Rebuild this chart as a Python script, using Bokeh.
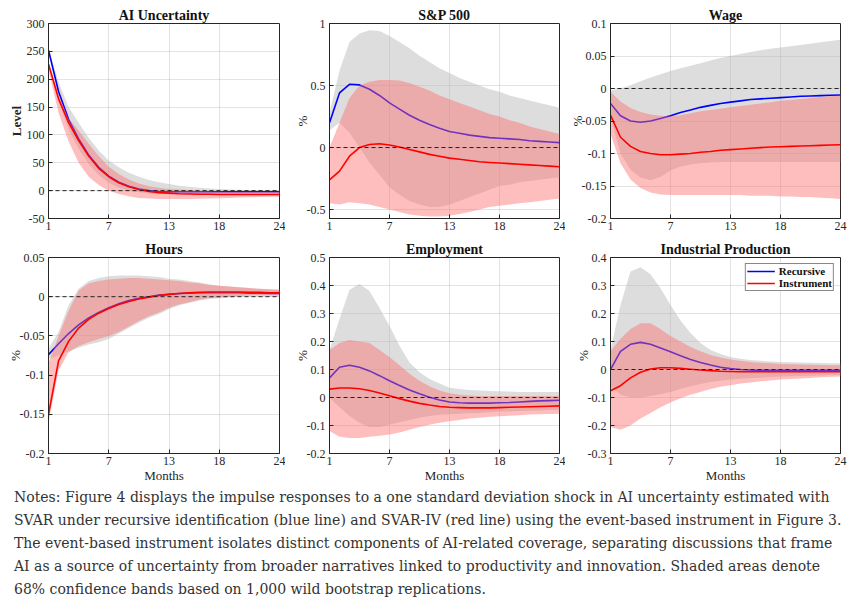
from bokeh.plotting import figure
from bokeh.layouts import row, column
from bokeh.models import Range1d, FixedTicker, Span, Div
from bokeh.embed import file_html
from bokeh.resources import INLINE

months = list(range(1, 25))
month_ticks = [1, 7, 13, 18, 24]
month_labels = ["1", "7", "13", "18", "24"]

# ---------------- AI Uncertainty ----------------
ai_rec = [252, 178, 128, 93, 64, 42, 26, 15, 8, 3, 0, -1.5, -2, -2, -2, -2, -2, -2, -2, -2, -2, -2, -2, -2]
ai_rec_lo = [248, 160, 110, 75, 48, 28, 14, 5, 0, -3, -5, -6, -6, -6, -6, -6, -6, -6, -6, -6, -5.5, -5.5, -5.5, -5.5]
ai_rec_hi = [255, 195, 150, 122, 95, 72, 54, 42, 32, 25, 19, 15, 12, 9, 7, 5, 4, 3, 2, 1.5, 1, 1, 0.5, 0.5]
ai_iv = [227, 165, 122, 90, 62, 40, 25, 14, 7, 2, -1.5, -3.5, -4.5, -5.5, -6, -6.5, -6.5, -7, -7, -7, -7, -7, -7, -7]
ai_iv_lo = [218, 140, 88, 50, 25, 10, 0, -6, -10, -13, -14, -15, -15, -15, -15, -14.5, -14, -13.5, -13, -12.5, -12, -11.5, -11, -11]
ai_iv_hi = [232, 172, 130, 108, 84, 62, 43, 30, 20, 13, 8, 5, 3, 2, 1, 0, -1, -1.5, -2, -2, -2, -2, -2, -2]
ai_yticks = [-50, 0, 50, 100, 150, 200, 250, 300]
ai_ylabels = ["-50", "0", "50", "100", "150", "200", "250", "300"]

# ---------------- S&P 500 ----------------
sp_rec = [0.20, 0.44, 0.51, 0.505, 0.47, 0.42, 0.36, 0.31, 0.26, 0.22, 0.185, 0.155, 0.13, 0.115, 0.10, 0.09, 0.08, 0.075, 0.07, 0.065, 0.055, 0.05, 0.045, 0.04]
sp_rec_lo = [0.14, 0.20, 0.12, 0.0, -0.12, -0.22, -0.32, -0.38, -0.43, -0.46, -0.48, -0.48, -0.46, -0.43, -0.40, -0.37, -0.34, -0.31, -0.30, -0.28, -0.27, -0.26, -0.25, -0.24]
sp_rec_hi = [0.28, 0.62, 0.85, 0.92, 0.945, 0.94, 0.90, 0.85, 0.80, 0.74, 0.69, 0.64, 0.60, 0.56, 0.53, 0.50, 0.47, 0.45, 0.42, 0.40, 0.38, 0.36, 0.34, 0.32]
sp_iv = [-0.26, -0.19, -0.07, 0.0, 0.025, 0.03, 0.02, 0.005, -0.015, -0.035, -0.055, -0.07, -0.085, -0.095, -0.105, -0.115, -0.12, -0.125, -0.13, -0.135, -0.14, -0.145, -0.15, -0.155]
sp_iv_lo = [-0.45, -0.46, -0.44, -0.45, -0.46, -0.48, -0.50, -0.52, -0.54, -0.55, -0.555, -0.555, -0.55, -0.535, -0.52, -0.50, -0.48, -0.47, -0.46, -0.45, -0.44, -0.43, -0.42, -0.41]
sp_iv_hi = [0.0, 0.2, 0.4, 0.5, 0.53, 0.545, 0.545, 0.54, 0.52, 0.49, 0.46, 0.42, 0.39, 0.36, 0.33, 0.30, 0.27, 0.25, 0.22, 0.20, 0.17, 0.15, 0.13, 0.11]
sp_yticks = [-0.5, 0, 0.5, 1]
sp_ylabels = ["-0.5", "0", "0.5", "1"]

# ---------------- Wage ----------------
wg_rec = [-0.023, -0.042, -0.05, -0.052, -0.05, -0.046, -0.042, -0.037, -0.033, -0.029, -0.026, -0.023, -0.021, -0.019, -0.017, -0.016, -0.015, -0.014, -0.013, -0.012, -0.0115, -0.011, -0.0105, -0.01]
wg_rec_lo = [-0.045, -0.1, -0.125, -0.137, -0.141, -0.136, -0.126, -0.12, -0.117, -0.115, -0.114, -0.113, -0.113, -0.113, -0.113, -0.113, -0.113, -0.113, -0.113, -0.113, -0.113, -0.113, -0.113, -0.113]
wg_rec_hi = [-0.003, 0.0, 0.005, 0.011, 0.017, 0.022, 0.027, 0.031, 0.035, 0.039, 0.043, 0.047, 0.05, 0.053, 0.056, 0.059, 0.061, 0.063, 0.065, 0.067, 0.069, 0.071, 0.073, 0.075]
wg_iv = [-0.041, -0.075, -0.089, -0.097, -0.1, -0.102, -0.102, -0.101, -0.1, -0.098, -0.097, -0.095, -0.094, -0.093, -0.092, -0.091, -0.09, -0.0895, -0.089, -0.0885, -0.088, -0.0875, -0.087, -0.0865]
wg_iv_lo = [-0.07, -0.115, -0.14, -0.153, -0.16, -0.163, -0.164, -0.164, -0.164, -0.164, -0.164, -0.164, -0.164, -0.164, -0.165, -0.165, -0.165, -0.166, -0.166, -0.167, -0.167, -0.168, -0.169, -0.17]
wg_iv_hi = [-0.005, -0.02, -0.03, -0.036, -0.04, -0.042, -0.043, -0.041, -0.038, -0.035, -0.033, -0.031, -0.029, -0.027, -0.025, -0.023, -0.021, -0.019, -0.0175, -0.016, -0.0145, -0.013, -0.012, -0.011]
wg_yticks = [-0.2, -0.15, -0.1, -0.05, 0, 0.05, 0.1]
wg_ylabels = ["-0.2", "-0.15", "-0.1", "-0.05", "0", "0.05", "0.1"]

# ---------------- Hours ----------------
hr_rec = [-0.074, -0.06, -0.047, -0.036, -0.027, -0.02, -0.014, -0.009, -0.005, -0.002, 0.0, 0.002, 0.003, 0.004, 0.0045, 0.005, 0.005, 0.005, 0.005, 0.005, 0.0045, 0.0045, 0.004, 0.004]
hr_rec_lo = [-0.079, -0.075, -0.07, -0.065, -0.061, -0.058, -0.054, -0.047, -0.04, -0.033, -0.027, -0.022, -0.016, -0.011, -0.008, -0.005, -0.003, -0.002, -0.001, 0.0, 0.0, 0.0, 0.0, 0.0]
hr_rec_hi = [-0.066, -0.045, -0.011, 0.01, 0.02, 0.024, 0.026, 0.027, 0.027, 0.027, 0.026, 0.025, 0.023, 0.022, 0.02, 0.018, 0.016, 0.014, 0.013, 0.012, 0.011, 0.01, 0.0095, 0.009]
hr_iv = [-0.15, -0.082, -0.057, -0.04, -0.029, -0.021, -0.015, -0.01, -0.006, -0.003, -0.0005, 0.0015, 0.003, 0.004, 0.005, 0.0055, 0.006, 0.006, 0.006, 0.006, 0.0055, 0.0055, 0.005, 0.005]
hr_iv_lo = [-0.16, -0.094, -0.071, -0.063, -0.058, -0.054, -0.05, -0.045, -0.038, -0.031, -0.025, -0.02, -0.014, -0.01, -0.007, -0.004, -0.002, -0.001, 0.0, 0.001, 0.0015, 0.002, 0.002, 0.002]
hr_iv_hi = [-0.085, -0.05, -0.018, 0.008, 0.017, 0.02, 0.022, 0.023, 0.024, 0.024, 0.023, 0.022, 0.021, 0.02, 0.018, 0.017, 0.015, 0.014, 0.013, 0.012, 0.011, 0.01, 0.0095, 0.009]
hr_yticks = [-0.2, -0.15, -0.1, -0.05, 0, 0.05]
hr_ylabels = ["-0.2", "-0.15", "-0.1", "-0.05", "0", "0.05"]

# ---------------- Employment ----------------
em_rec = [0.07, 0.108, 0.115, 0.108, 0.095, 0.078, 0.06, 0.043, 0.027, 0.013, 0.001, -0.009, -0.016, -0.019, -0.02, -0.02, -0.02, -0.019, -0.018, -0.016, -0.014, -0.012, -0.011, -0.01]
em_rec_lo = [0.0, -0.035, -0.066, -0.09, -0.105, -0.105, -0.096, -0.088, -0.08, -0.072, -0.066, -0.062, -0.06, -0.058, -0.056, -0.055, -0.053, -0.05, -0.049, -0.048, -0.047, -0.046, -0.045, -0.045]
em_rec_hi = [0.17, 0.28, 0.385, 0.405, 0.38, 0.32, 0.255, 0.185, 0.125, 0.09, 0.066, 0.05, 0.035, 0.03, 0.027, 0.025, 0.023, 0.022, 0.021, 0.02, 0.02, 0.02, 0.02, 0.02]
em_iv = [0.03, 0.034, 0.034, 0.031, 0.025, 0.016, 0.006, -0.004, -0.013, -0.021, -0.027, -0.032, -0.035, -0.036, -0.037, -0.037, -0.037, -0.036, -0.035, -0.034, -0.033, -0.032, -0.031, -0.03]
em_iv_lo = [-0.12, -0.14, -0.145, -0.145, -0.14, -0.137, -0.132, -0.125, -0.115, -0.105, -0.097, -0.09, -0.085, -0.08, -0.075, -0.072, -0.069, -0.067, -0.065, -0.063, -0.061, -0.06, -0.059, -0.058]
em_iv_hi = [0.17, 0.195, 0.205, 0.2, 0.195, 0.17, 0.145, 0.115, 0.085, 0.06, 0.04, 0.025, 0.015, 0.01, 0.007, 0.005, 0.005, 0.005, 0.005, 0.005, 0.005, 0.005, 0.005, 0.005]
em_yticks = [-0.2, -0.1, 0, 0.1, 0.2, 0.3, 0.4, 0.5]
em_ylabels = ["-0.2", "-0.1", "0", "0.1", "0.2", "0.3", "0.4", "0.5"]

# ---------------- Industrial Production ----------------
ip_rec = [0.0, 0.065, 0.09, 0.097, 0.09, 0.077, 0.063, 0.049, 0.036, 0.025, 0.016, 0.008, 0.003, 0.0, -0.002, -0.003, -0.003, -0.003, -0.003, -0.003, -0.003, -0.003, -0.003, -0.003]
ip_rec_lo = [-0.06, -0.09, -0.1, -0.1, -0.095, -0.088, -0.08, -0.07, -0.06, -0.052, -0.045, -0.04, -0.036, -0.033, -0.031, -0.029, -0.027, -0.025, -0.024, -0.023, -0.022, -0.021, -0.02, -0.02]
ip_rec_hi = [0.07, 0.23, 0.35, 0.365, 0.34, 0.29, 0.23, 0.175, 0.13, 0.095, 0.07, 0.055, 0.045, 0.038, 0.034, 0.031, 0.029, 0.027, 0.026, 0.025, 0.024, 0.023, 0.022, 0.022]
ip_iv = [-0.076, -0.058, -0.03, -0.01, 0.002, 0.006, 0.006, 0.004, 0.001, -0.002, -0.004, -0.006, -0.007, -0.008, -0.008, -0.008, -0.008, -0.008, -0.008, -0.008, -0.008, -0.008, -0.008, -0.008]
ip_iv_lo = [-0.205, -0.215, -0.2, -0.175, -0.155, -0.135, -0.118, -0.103, -0.09, -0.08, -0.07, -0.062, -0.056, -0.05, -0.046, -0.042, -0.039, -0.036, -0.034, -0.032, -0.03, -0.028, -0.026, -0.025]
ip_iv_hi = [0.065, 0.11, 0.145, 0.165, 0.165, 0.145, 0.12, 0.1, 0.08, 0.065, 0.052, 0.043, 0.036, 0.031, 0.027, 0.024, 0.022, 0.02, 0.019, 0.018, 0.017, 0.016, 0.015, 0.015]
ip_yticks = [-0.3, -0.2, -0.1, 0, 0.1, 0.2, 0.3, 0.4]
ip_ylabels = ["-0.3", "-0.2", "-0.1", "0", "0.1", "0.2", "0.3", "0.4"]

notes_lines = [
    "Notes: Figure 4 displays the impulse responses to a one standard deviation shock in AI uncertainty estimated with",
    "SVAR under recursive identification (blue line) and SVAR-IV (red line) using the event-based instrument in Figure 3.",
    "The event-based instrument isolates distinct components of AI-related coverage, separating discussions that frame",
    "AI as a source of uncertainty from broader narratives linked to productivity and innovation. Shaded areas denote",
    "68% confidence bands based on 1,000 wild bootstrap replications.",
]

FONT = "'Liberation Serif', serif"
AX = "#262626"
GRAY_FILL = "#b4b4b4"
PINK_FILL = "#ff6e6e"
BLUE = "#0000ff"
RED = "#ff0000"


def make_panel(title, ylab, ybold, yr, yticks, ylabels, rec, rec_lo, rec_hi, iv, iv_lo, iv_hi,
               bl, br, bt, bb, fw, fh, xlabel=None, legend=False):
    p = figure(width=bl + fw + br, height=bt + fh + bb,
               min_border_left=bl, min_border_right=br,
               min_border_top=bt, min_border_bottom=bb,
               x_range=Range1d(1, 24), y_range=Range1d(yr[0], yr[1]),
               output_backend="svg", toolbar_location=None, title=title)
    p.background_fill_color = "white"
    p.border_fill_color = "white"
    p.outline_line_color = AX
    p.outline_line_width = 1
    p.title.text_font = FONT
    p.title.text_font_size = "14px"
    p.title.text_font_style = "bold"
    p.title.align = "center"
    p.title.standoff = 2
    p.title.text_color = "#111111"

    p.xaxis.ticker = FixedTicker(ticks=month_ticks)
    p.xaxis.major_label_overrides = {t: s for t, s in zip(month_ticks, month_labels)}
    p.yaxis.ticker = FixedTicker(ticks=yticks)
    p.yaxis.major_label_overrides = {t: s for t, s in zip(yticks, ylabels)}
    p.xgrid.ticker = FixedTicker(ticks=month_ticks)
    p.ygrid.ticker = FixedTicker(ticks=yticks)
    for g in (p.xgrid, p.ygrid):
        g.grid_line_color = AX
        g.grid_line_alpha = 0.13
        g.grid_line_width = 1
    for ax in (p.xaxis, p.yaxis):
        ax.axis_line_color = AX
        ax.major_tick_line_color = AX
        ax.major_tick_in = 4
        ax.major_tick_out = 0
        ax.minor_tick_in = 0
        ax.minor_tick_out = 0
        ax.major_label_text_font = FONT
        ax.major_label_text_font_size = "12px"
        ax.major_label_text_color = "#262626"
        ax.axis_label_text_font = FONT
        ax.axis_label_text_font_size = "13px"
        ax.axis_label_text_color = "#262626"
        ax.axis_label_text_font_style = "normal"
    p.yaxis.major_label_standoff = 4
    p.xaxis.major_label_standoff = 3
    p.yaxis.axis_label = ylab
    if ybold:
        p.yaxis.axis_label_standoff = 0
        p.yaxis.axis_label_text_font_style = "bold"
    else:
        p.yaxis.axis_label_standoff = -6
    if xlabel:
        p.xaxis.axis_label = xlabel
        p.xaxis.axis_label_standoff = 0

    p.varea(x=months, y1=rec_lo, y2=rec_hi, fill_color=GRAY_FILL, fill_alpha=0.45)
    if legend:
        p.line(months, rec, line_color=BLUE, line_width=1.6, legend_label="Recursive")
    else:
        p.line(months, rec, line_color=BLUE, line_width=1.6)
    p.varea(x=months, y1=iv_lo, y2=iv_hi, fill_color=PINK_FILL, fill_alpha=0.45)
    if legend:
        p.line(months, iv, line_color=RED, line_width=1.6, legend_label="Instrument")
    else:
        p.line(months, iv, line_color=RED, line_width=1.6)
    p.add_layout(Span(location=0, dimension="width", line_color="#222222",
                      line_dash="4 3", line_width=1))
    if legend:
        lg = p.legend[0]
        lg.location = "top_right"
        lg.margin = 6
        lg.padding = 1
        lg.spacing = 0
        lg.label_height = 12
        lg.glyph_height = 12
        lg.glyph_width = 28
        lg.label_standoff = 4
        lg.label_text_font = FONT
        lg.label_text_font_size = "11px"
        lg.label_text_font_style = "bold"
        lg.label_text_color = "#111111"
        lg.border_line_color = "#111111"
        lg.border_line_width = 1
        lg.background_fill_alpha = 1.0
    return p


# row 1 (top): frames at y 23..218
p1 = make_panel("AI Uncertainty", "Level", True, (-50, 300), ai_yticks, ai_ylabels,
                ai_rec, ai_rec_lo, ai_rec_hi, ai_iv, ai_iv_lo, ai_iv_hi,
                48, 6, 23, 18, 231, 195)
p2 = make_panel("S&P 500", "%", False, (-0.572, 1), sp_yticks, sp_ylabels,
                sp_rec, sp_rec_lo, sp_rec_hi, sp_iv, sp_iv_lo, sp_iv_hi,
                44, 6, 23, 18, 230, 195)
p3 = make_panel("Wage", "%", False, (-0.2, 0.1), wg_yticks, wg_ylabels,
                wg_rec, wg_rec_lo, wg_rec_hi, wg_iv, wg_iv_lo, wg_iv_hi,
                45, 10, 23, 18, 230, 195)
# row 2 (bottom): frames at y 257..453
p4 = make_panel("Hours", "%", False, (-0.2, 0.05), hr_yticks, hr_ylabels,
                hr_rec, hr_rec_lo, hr_rec_hi, hr_iv, hr_iv_lo, hr_iv_hi,
                48, 6, 21, 32, 231, 196, xlabel="Months")
p5 = make_panel("Employment", "%", False, (-0.2, 0.5), em_yticks, em_ylabels,
                em_rec, em_rec_lo, em_rec_hi, em_iv, em_iv_lo, em_iv_hi,
                44, 6, 21, 32, 230, 196, xlabel="Months")
p6 = make_panel("Industrial Production", "%", False, (-0.3, 0.4), ip_yticks, ip_ylabels,
                ip_rec, ip_rec_lo, ip_rec_hi, ip_iv, ip_iv_lo, ip_iv_hi,
                45, 10, 21, 32, 230, 196, xlabel="Months", legend=True)

notes_html = ("<div style=\"font-family:'DejaVu Serif', serif;font-size:14px;line-height:23px;"
              "color:#333333;white-space:nowrap;padding:1px 0 0 14px;\">"
              + "<br>".join(notes_lines) + "</div>")
notes = Div(text=notes_html, width=850, height=118, margin=(0, 0, 0, 0))

layout = column(row(p1, p2, p3), row(p4, p5, p6), notes)

open("out.html", "w").write(file_html(layout, INLINE, title="Figure 4"))
